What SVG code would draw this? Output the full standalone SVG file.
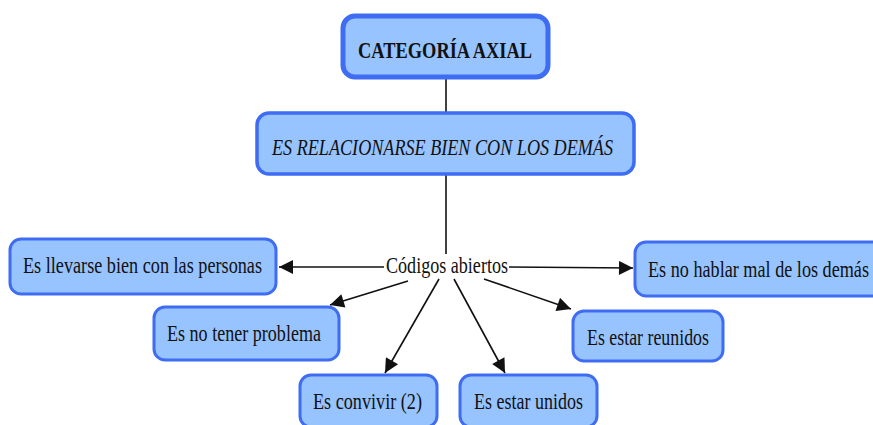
<svg xmlns="http://www.w3.org/2000/svg" width="873" height="425" viewBox="0 0 873 425">
<style>
.box{fill:#97c3ff;stroke:#3e6cf2;stroke-width:3}
.t{font-family:"Liberation Serif","Times New Roman",serif;font-size:23px;fill:#111}
.ln{stroke:#111;stroke-width:1.6;fill:none}
</style>
<defs>
<marker id="ahb" viewBox="0 0 10 10" refX="10" refY="5" markerWidth="17" markerHeight="14" markerUnits="userSpaceOnUse" orient="auto">
<path d="M0,0 L10,5 L0,10 z" fill="#111"/>
</marker>
</defs>
<rect width="873" height="425" fill="#fff"/>
<g id="connectors">
<line class="ln" x1="446" y1="78" x2="446" y2="112"/>
<line class="ln" x1="446" y1="175" x2="446" y2="254"/>
<line class="ln" x1="384" y1="267" x2="279" y2="267" marker-end="url(#ahb)"/>
<line class="ln" x1="509" y1="267" x2="633" y2="268" marker-end="url(#ahb)"/>
<line class="ln" x1="408" y1="281" x2="330" y2="305" marker-end="url(#ahb)"/>
<line class="ln" x1="439" y1="279" x2="385" y2="373" marker-end="url(#ahb)"/>
<line class="ln" x1="454" y1="279" x2="505" y2="373" marker-end="url(#ahb)"/>
<line class="ln" x1="484" y1="279" x2="571" y2="309" marker-end="url(#ahb)"/>
<rect x="385" y="256" width="124" height="20" fill="#fff"/>
<text class="t" x="386" y="273" textLength="122" lengthAdjust="spacingAndGlyphs">Códigos abiertos</text>
</g>
<g id="n-categoria">
<rect class="box" x="343" y="16" width="205" height="61" rx="12" style="stroke-width:5"/>
<text class="t" x="358" y="58" textLength="174" lengthAdjust="spacingAndGlyphs" style="font-weight:bold;font-size:22.5px">CATEGORÍA AXIAL</text>
</g>
<g id="n-relacionarse">
<rect class="box" x="257" y="113" width="377" height="61" rx="12" style="stroke-width:3.5"/>
<text class="t" x="272" y="155" textLength="341" lengthAdjust="spacingAndGlyphs" style="font-style:italic">ES RELACIONARSE BIEN CON LOS DEMÁS</text>
</g>
<g id="n-llevarse">
<rect class="box" x="10" y="239" width="266" height="55" rx="11"/>
<text class="t" x="23" y="273" textLength="239" lengthAdjust="spacingAndGlyphs">Es llevarse bien con las personas</text>
</g>
<g id="n-hablar">
<rect class="box" x="635" y="242" width="250" height="54" rx="11"/>
<text class="t" x="648" y="277" textLength="221" lengthAdjust="spacingAndGlyphs">Es no hablar mal de los demás</text>
</g>
<g id="n-problema">
<rect class="box" x="154" y="307" width="185" height="53" rx="11"/>
<text class="t" x="167" y="341" textLength="154" lengthAdjust="spacingAndGlyphs">Es no tener problema</text>
</g>
<g id="n-reunidos">
<rect class="box" x="573" y="311" width="150" height="50" rx="11"/>
<text class="t" x="587" y="345" textLength="122" lengthAdjust="spacingAndGlyphs">Es estar reunidos</text>
</g>
<g id="n-convivir">
<rect class="box" x="300" y="375" width="137" height="52" rx="11"/>
<text class="t" x="313" y="409" textLength="109" lengthAdjust="spacingAndGlyphs">Es convivir (2)</text>
</g>
<g id="n-unidos">
<rect class="box" x="460" y="375" width="137" height="52" rx="11"/>
<text class="t" x="474" y="409" textLength="109" lengthAdjust="spacingAndGlyphs">Es estar unidos</text>
</g>
</svg>
